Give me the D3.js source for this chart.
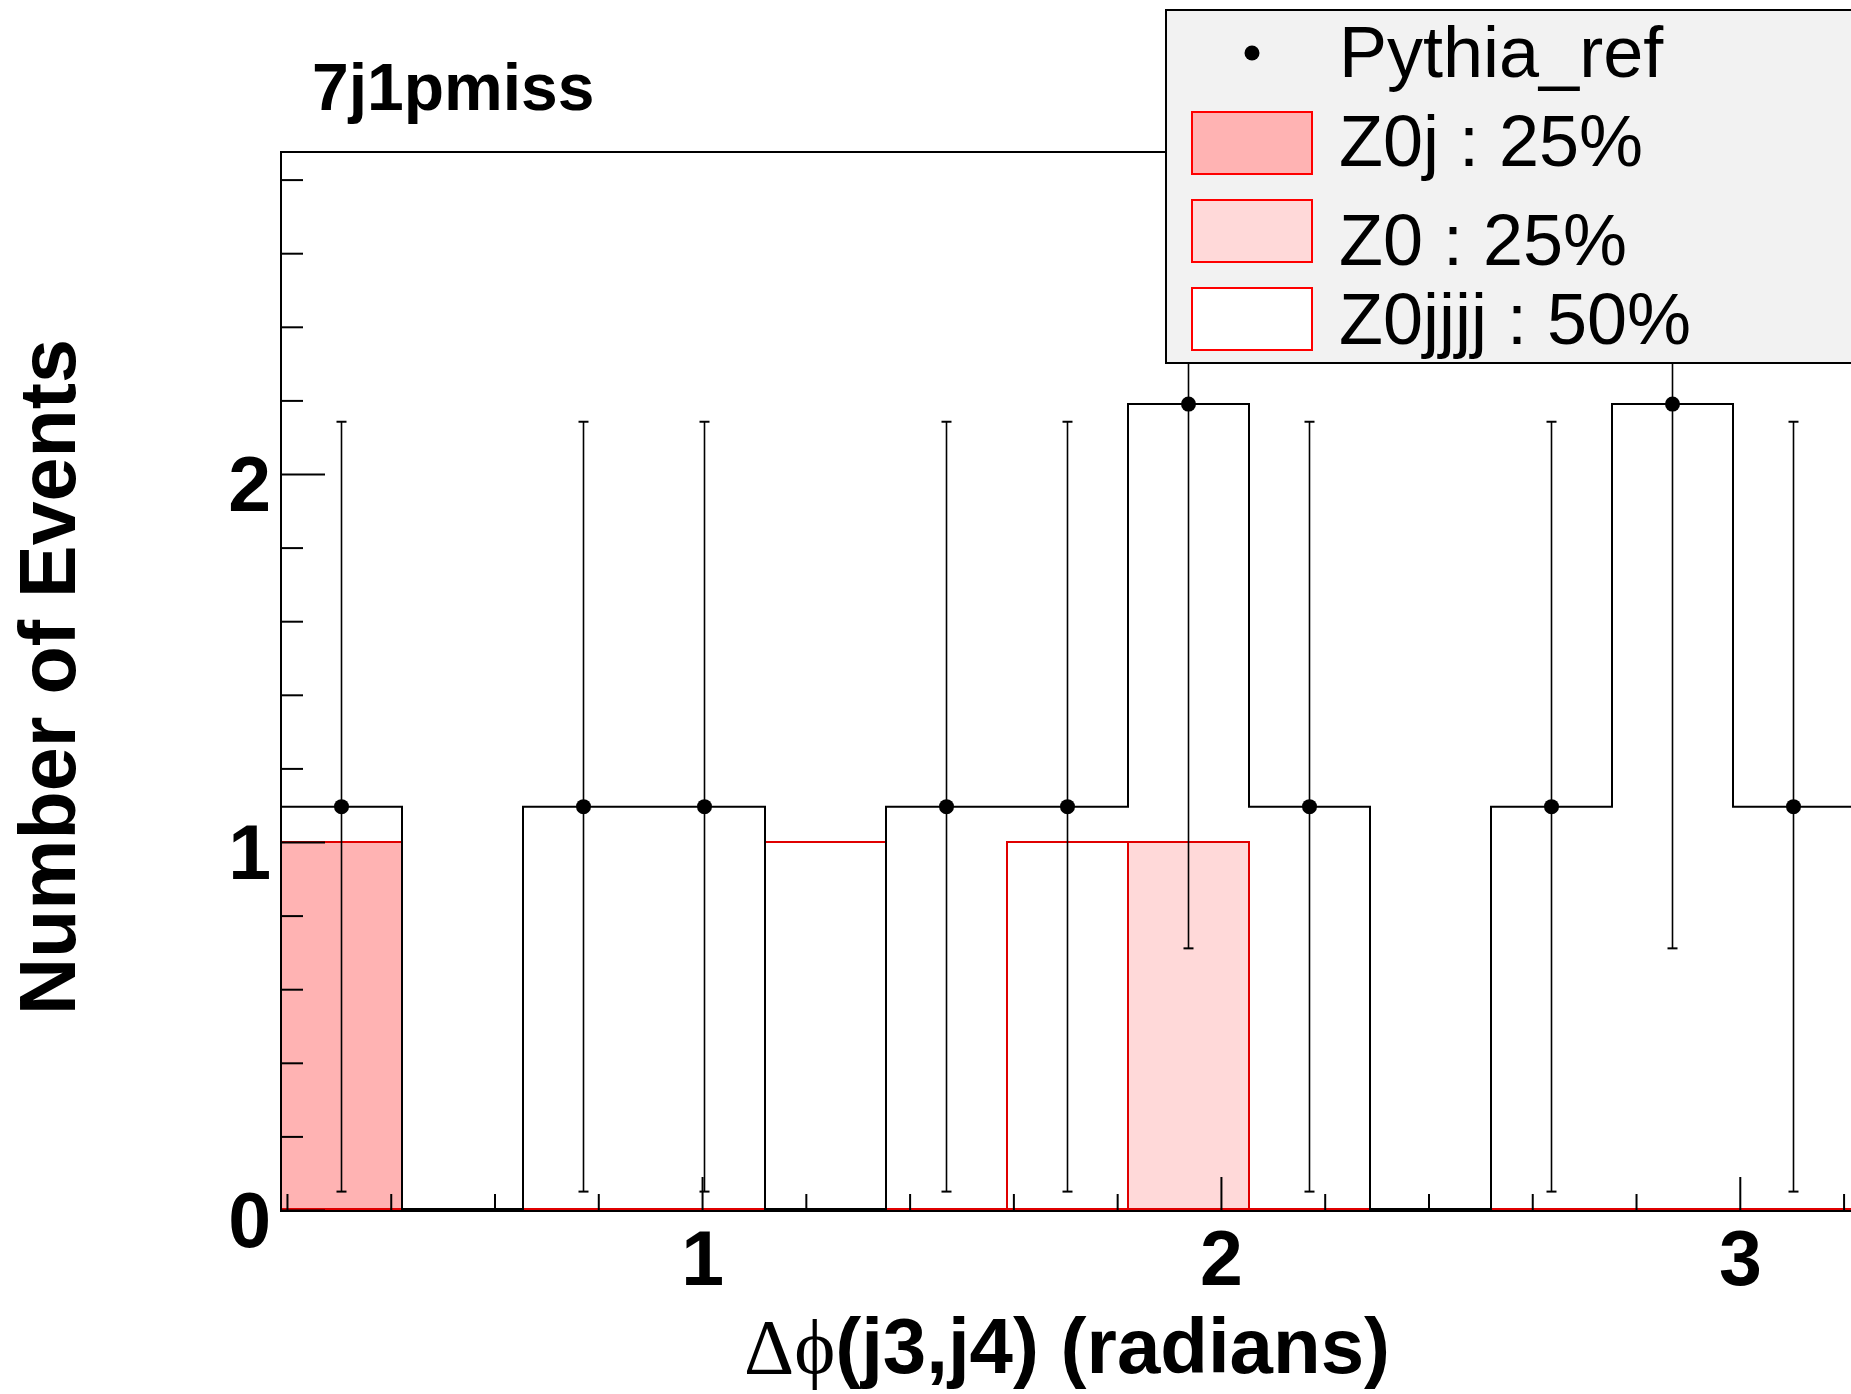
<!DOCTYPE html>
<html><head><meta charset="utf-8">
<script src="https://cdn.jsdelivr.net/npm/d3@7"></script>
<style>html,body{margin:0;padding:0;background:#fff;} svg{display:block;}</style>
</head><body>
<svg id="c" width="1851" height="1394"></svg>
<script>
// ---- data ----
const binEdges   = [0.1885,0.4217,0.6549,0.8881,1.1213,1.3545,1.5877,1.8209,2.0541,2.2873,2.5205,2.7537,2.9869,3.2201];
const pythiaRef  = [1.096,0,1.096,1.096,0,1.096,1.096,2.19,1.096,0,1.096,2.19,1.096];
const pythiaErr  = [1.046,0,1.046,1.046,0,1.046,1.046,1.479,1.046,0,1.046,1.479,1.046];
const z0j        = [1,0,0,0,0,0,0,0,0,0,0,0,0];
const z0         = [0,0,0,0,0,0,0,1,0,0,0,0,0];
const z0jjjj     = [0,0,0,0,1,0,1,0,0,0,0,0,0];
const xMajorTicks = [1,2,3];
const xMinorTicks = [0.2,0.4,0.6,0.8,1.2,1.4,1.6,1.8,2.2,2.4,2.6,2.8,3.2];
const yMajorTicks = [0,1,2];
const yMinorTicks = [0.2,0.4,0.6,0.8,1.2,1.4,1.6,1.8,2.2,2.4,2.6,2.8];
const legendLabels = ["Pythia_ref","Z0j : 25%","Z0 : 25%","Z0jjjj : 50%"];
const stackColors = ["#ffb3b3","#ffd9d9","#ffffff"];
const titleText = "7j1pmiss";
const yTitle = "Number of Events";

// ---- layout ----
const svg = d3.select("#c");
const L = 281, R = 1854, T = 152, B = 1210;
const x = d3.scaleLinear().domain([0.1885, 3.2201]).range([L, R]);
const y = d3.scaleLinear().domain([0, 2.875]).range([B, T]);
const SANS = "'Liberation Sans', Arial, Helvetica, sans-serif";
const SERIF = "'Liberation Serif', 'DejaVu Serif', serif";

svg.append("rect").attr("width",1851).attr("height",1394).attr("fill","#fff");

svg.append("defs").append("clipPath").attr("id","frameClip")
  .append("rect").attr("x",L).attr("y",T).attr("width",R-L).attr("height",B-T+1);

// frame (drawn first, histograms overlay it as in ROOT)
svg.append("rect").attr("x",L).attr("y",T).attr("width",R-L).attr("height",B-T+1)
  .attr("fill","none").attr("stroke","#000").attr("stroke-width",2);

const plot = svg.append("g").attr("clip-path","url(#frameClip)");

function stepPoints(vals){
  const pts = [[binEdges[0],0]];
  vals.forEach((v,i)=>{ pts.push([binEdges[i],v]); pts.push([binEdges[i+1],v]); });
  pts.push([binEdges[binEdges.length-1],0]);
  return pts;
}
const line = d3.line().x(d=>x(d[0])).y(d=>y(d[1]) - (d[1]===0 ? 1 : 0));

// stacked cumulative
const layers = [z0j, z0, z0jjjj];
const cum = [];
let acc = z0j.map(()=>0);
layers.forEach(l=>{ acc = acc.map((a,i)=>a+l[i]); cum.push(acc.slice()); });

// draw top of stack first
for (let k = cum.length-1; k >= 0; k--) {
  plot.append("path").attr("d", line(stepPoints(cum[k])) + "Z")
    .attr("fill", stackColors[k]).attr("stroke","#e00000").attr("stroke-width",2);
}

// Pythia reference histogram outline (nonzero parts)
const lineP = d3.line().x(d=>x(d[0])).y(d=>y(d[1]));
plot.append("path").attr("d", lineP(stepPoints(pythiaRef).map(p=>[p[0], p[1]===0 ? 0.003 : p[1]])))
  .attr("fill","none").attr("stroke","#000").attr("stroke-width",2);

// error bars and markers
const pts = pythiaRef.map((v,i)=>({c:(binEdges[i]+binEdges[i+1])/2, v, e:pythiaErr[i]})).filter(d=>d.v>0);
const eb = plot.append("g").attr("stroke","#000").attr("stroke-width",1.6);
pts.forEach(d=>{
  const cx = x(d.c);
  const y1 = y(d.v - d.e), y2 = y(d.v + d.e);
  eb.append("line").attr("x1",cx).attr("x2",cx).attr("y1",y1).attr("y2",y2);
  eb.append("line").attr("x1",cx-5).attr("x2",cx+5).attr("y1",y1).attr("y2",y1).attr("stroke-width",2);
  eb.append("line").attr("x1",cx-5).attr("x2",cx+5).attr("y1",y2).attr("y2",y2).attr("stroke-width",2);
});
plot.selectAll("circle.pt").data(pts).enter().append("circle")
  .attr("cx",d=>x(d.c)).attr("cy",d=>y(d.v)).attr("r",7.5).attr("fill","#000");

// ---- axes ----
function styleAxis(g){ g.select(".domain").remove(); g.selectAll("line").attr("stroke","#000").attr("stroke-width",2); }

const gxMinor = svg.append("g").attr("transform",`translate(0,${B})`)
  .call(d3.axisBottom(x).tickValues(xMinorTicks).tickSize(-16).tickFormat(""));
styleAxis(gxMinor);
const gx = svg.append("g").attr("transform",`translate(0,${B})`)
  .call(d3.axisBottom(x).tickValues(xMajorTicks).tickSize(-33).tickFormat(d3.format("d")));
styleAxis(gx);
gx.selectAll("text").attr("y",75).attr("dy",null)
  .attr("font-family",SANS).attr("font-weight","bold").attr("font-size",77).attr("fill","#000");

const gyMinor = svg.append("g").attr("transform",`translate(${L},0)`)
  .call(d3.axisLeft(y).tickValues(yMinorTicks).tickSize(-22).tickFormat(""));
styleAxis(gyMinor);
const gy = svg.append("g").attr("transform",`translate(${L},0)`)
  .call(d3.axisLeft(y).tickValues(yMajorTicks).tickSize(-44).tickFormat(d3.format("d")));
styleAxis(gy);
gy.selectAll("text").attr("x",-10).attr("y",36).attr("dy",null)
  .attr("font-family",SANS).attr("font-weight","bold").attr("font-size",77).attr("fill","#000");

// axis lines on top (left and bottom)
svg.append("line").attr("x1",L).attr("x2",L).attr("y1",T).attr("y2",B+2).attr("stroke","#000").attr("stroke-width",2);
svg.append("line").attr("x1",L).attr("x2",R).attr("y1",B+1).attr("y2",B+1).attr("stroke","#000").attr("stroke-width",2);

// ---- titles ----
svg.append("text").attr("x",312).attr("y",110).text(titleText)
  .attr("font-family",SANS).attr("font-weight","bold").attr("font-size",66);

const xt = svg.append("text").attr("x",1067).attr("y",1373).attr("text-anchor","middle")
  .attr("font-family",SANS).attr("font-weight","bold").attr("font-size",78);
xt.append("tspan").attr("font-family",SERIF).attr("font-weight","normal").text("\u0394\u03D5");
xt.append("tspan").text("(j3,j4) (radians)");

svg.append("text").attr("transform","translate(75,677) rotate(-90)").attr("text-anchor","middle")
  .attr("font-family",SANS).attr("font-weight","bold").attr("font-size",79).text(yTitle);

// ---- legend ----
const lg = svg.append("g");
lg.append("rect").attr("x",1166).attr("y",10).attr("width",760).attr("height",353)
  .attr("fill","#f2f2f2").attr("stroke","#000").attr("stroke-width",2);
lg.append("circle").attr("cx",1252).attr("cy",53).attr("r",7.5).attr("fill","#000");
const boxY = [112,200,288];
const textY = [77,166,265,344];
boxY.forEach((by,i)=>{
  lg.append("rect").attr("x",1192).attr("y",by).attr("width",120).attr("height",62)
    .attr("fill",stackColors[i]).attr("stroke","#ff0000").attr("stroke-width",2);
});
legendLabels.forEach((t,i)=>{
  lg.append("text").attr("x",1339).attr("y",textY[i]).text(t)
    .attr("font-family",SANS).attr("font-size",72).attr("fill","#000");
});
</script>
</body></html>
